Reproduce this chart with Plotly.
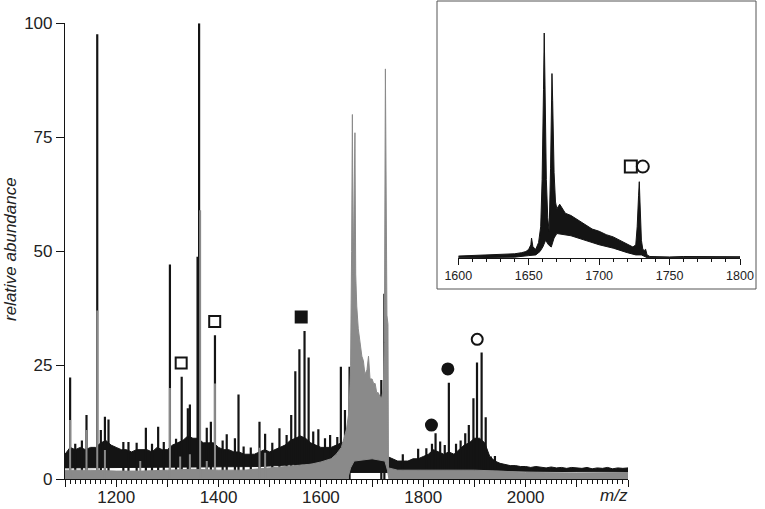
import plotly.graph_objects as go

# ---- main spectrum (black trace): noise band on a 10 m/z grid ----
black_x = list(range(1100, 2201, 10))
black_hi = [5.5, 7.0, 6.5, 7.0, 6.5, 7.0, 7.0, 8.0, 8.5, 7.5,
            7.0, 6.5, 6.5, 6.0, 6.5, 6.5, 6.5, 6.0, 7.0, 6.5,
            6.5, 7.5, 8.0, 8.5, 9.5, 9.0, 9.0, 8.0, 8.0, 8.0,
            7.0, 6.5, 6.5, 6.0, 6.0, 5.5, 5.5, 5.5, 6.0, 6.5,
            6.0, 6.5, 7.0, 7.5, 8.5, 9.0, 9.5, 9.0, 8.0, 7.5,
            7.0, 7.0, 7.0, 7.5, 8.0, 8.0, 6.0, 6.5, 5.5, 5.5,
            5.0, 5.0, 5.5, 5.0, 4.5, 4.0, 4.0, 4.0, 4.5, 4.5,
            5.0, 5.5, 6.5, 6.0, 5.5, 6.0, 5.5, 6.5, 7.5, 8.0,
            9.0, 9.0, 8.0, 5.0, 4.0, 3.5, 3.2, 3.0, 3.0, 2.8,
            2.8, 2.6, 2.8, 2.6, 2.5, 2.7, 2.5, 2.6, 2.4, 2.6,
            2.5, 2.4, 2.6, 2.3, 2.5, 2.4, 2.6, 2.3, 2.5, 2.4, 2.5]
black_lo_x = [1100, 1480, 1600, 1650, 1656, 1730, 1736, 2200]
black_lo = [2.5, 2.8, 3.5, 3.0, 1.5, 1.5, 2.0, 1.6]

# black peaks (m/z, height)
black_peak_mz = [1110, 1120, 1133, 1142, 1163, 1170, 1178, 1185, 1214, 1224,
                 1240, 1258, 1270, 1282, 1293, 1305, 1317, 1328, 1340, 1344,
                 1359, 1362, 1377, 1385, 1393, 1408, 1416, 1432, 1439, 1449,
                 1463, 1480, 1491, 1505, 1519, 1533, 1542, 1550, 1558, 1568,
                 1576, 1585, 1595, 1608, 1618, 1632, 1639, 1647, 1656, 1718,
                 1724, 1760, 1790, 1806, 1817, 1824, 1833, 1842, 1850, 1864,
                 1873, 1882, 1889, 1898, 1905, 1914, 1922, 1932, 1940]
black_peak_h = [22.3, 7.8, 8.5, 14.1, 97.6, 10.8, 13.7, 13.1, 8.2, 8.2,
                8.0, 11.3, 7.8, 11.5, 8.2, 47.1, 8.9, 22.5, 15.6, 16.4,
                48.8, 100, 11.3, 12.6, 31.6, 8.5, 9.9, 9.0, 18.6, 7.2,
                7.0, 12.6, 10.0, 8.0, 11.2, 9.7, 14.1, 23.7, 28.5, 32.5,
                26.7, 10.5, 11.0, 9.0, 9.7, 9.3, 24.7, 15.2, 24.7, 21.8,
                40.7, 5.5, 6.7, 6.8, 7.8, 10.1, 8.3, 7.5, 21.2, 7.8,
                8.5, 10.1, 11.9, 17.8, 25.6, 27.8, 13.6, 5.0, 5.1]

# ---- gray trace ----
gray_hi_x = [1100, 1150, 1200, 1250, 1300, 1350, 1400, 1450, 1500, 1550,
             1580, 1600, 1620, 1630, 1640, 1645, 1650, 1655, 1658, 1660,
             1661.5, 1663, 1665, 1666.5, 1668, 1670, 1673, 1677, 1680, 1683,
             1686, 1690, 1693, 1696, 1700, 1703, 1706, 1709, 1712, 1716,
             1719, 1722, 1724, 1726, 1727.5, 1729, 1731, 1732, 1750, 1800,
             1850, 1900, 1950, 2000, 2100, 2200]
gray_hi = [2.0, 2.0, 1.8, 1.8, 2.0, 2.2, 2.0, 2.0, 2.5, 3.0,
           3.3, 3.8, 4.5, 5.5, 7.0, 9.0, 11.0, 15.0, 25.0, 50.0,
           80.0, 45.0, 60.0, 76.0, 45.0, 38.0, 33.0, 29.0, 27.0, 26.0,
           23.0, 24.0, 27.0, 22.0, 22.0, 21.0, 21.0, 19.0, 19.0, 18.0,
           18.0, 20.0, 30.0, 90.0, 40.0, 36.0, 34.0, 2.5, 2.0, 2.0,
           2.0, 2.0, 1.8, 1.5, 1.4, 1.4]
gray_lo_x = [1100, 1652, 1658, 1665, 1700, 1725, 1730, 1733, 2200]
gray_lo = [0, 0, 2.5, 4.0, 4.5, 4.0, 2.0, 0, 0]

gray_peak_mz = [1110, 1142, 1163, 1178, 1247, 1305, 1325, 1344, 1364, 1377, 1393, 1480, 1491]
gray_peak_h = [13.0, 10.8, 37.0, 6.4, 4.0, 20.0, 5.0, 5.5, 59.0, 4.0, 21.0, 6.9, 5.8]

# ---- peak labels ----
sym_mz = [1327, 1360.5, 1392.5, 1561.5, 1816, 1848, 1905.4]
sym_y = [25.5, 102.4, 34.6, 35.6, 11.9, 24.2, 30.7]
sym_kind = ["square-open", "square-open", "square-open", "square",
            "circle", "circle", "circle-open"]

# ---- inset (1600-1800 zoom) ----
inset_hi_x = [1600, 1610, 1620, 1630, 1640, 1645, 1648, 1650, 1651.5, 1652,
              1653, 1655, 1657, 1658.5, 1659.5, 1660.5, 1661, 1661.5, 1662.5, 1663.5,
              1664.5, 1665.5, 1666.5, 1667, 1668, 1669, 1670, 1672, 1674, 1676,
              1680, 1685, 1690, 1695, 1700, 1705, 1710, 1715, 1720, 1724,
              1726, 1727, 1728, 1728.5, 1729, 1730, 1731, 1732, 1733, 1734,
              1736, 1740, 1750, 1760, 1770, 1780, 1790, 1800]
inset_hi = [1.0, 1.2, 1.4, 1.7, 2.0, 2.5, 3.0, 4.0, 6.0, 9.0,
            5.0, 4.0, 7.0, 14.0, 35.0, 75.0, 100.0, 80.0, 35.0, 18.0,
            12.0, 40.0, 82.0, 70.0, 38.0, 25.0, 22.0, 24.0, 22.0, 20.0,
            19.0, 17.0, 15.0, 13.0, 12.0, 10.5, 9.5, 8.0, 6.5, 5.0,
            6.0, 14.0, 28.0, 34.0, 25.0, 8.0, 4.0, 3.5, 4.0, 1.5,
            0.8, 0.7, 0.6, 0.8, 0.7, 0.8, 0.7, 0.7]
inset_lo_x = [1600, 1640, 1650, 1655, 1658, 1660, 1662, 1664, 1666, 1668,
              1670, 1680, 1690, 1700, 1710, 1720, 1726, 1730, 1734, 1740, 1800]
inset_lo = [0.2, 0.5, 1.2, 1.5, 3.0, 5.0, 8.0, 6.0, 5.0, 9.0,
            11.0, 10.0, 8.0, 6.0, 4.5, 2.5, 1.5, 1.5, 0.3, 0.2, 0.2]
inset_sym_mz = [1656.2, 1665.5, 1722.5, 1731]
inset_sym_y = [105.5, 105.5, 40.7, 40.7]
inset_sym_kind = ["square", "circle", "square-open", "circle-open"]

x_tick_vals = list(range(1100, 2201, 100))
x_tick_text = ["", "1200", "", "1400", "", "1600", "", "1800", "", "2000", "", ""]
y_tick_vals = [0, 25, 50, 75, 100]
inset_tick_vals = [1600, 1650, 1700, 1750, 1800]

BLACK = "#141414"
GRAY = "#8a8a8a"
FONT = "Liberation Sans, Arial, sans-serif"


def polygon(top_x, top_y, bot_x, bot_y):
    return top_x + bot_x[::-1], top_y + bot_y[::-1]


def sticks(mz, h):
    xs, ys = [], []
    for m, v in zip(mz, h):
        xs += [m, m, None]
        ys += [0, v, None]
    return xs, ys


fig = go.Figure()

bx, by = polygon(black_x, black_hi, black_lo_x, black_lo)
fig.add_trace(go.Scatter(x=bx, y=by, fill="toself", fillcolor=BLACK, mode="lines",
                         line=dict(color=BLACK, width=1), hoverinfo="skip"))
sx, sy = sticks(black_peak_mz, black_peak_h)
fig.add_trace(go.Scatter(x=sx, y=sy, mode="lines", line=dict(color=BLACK, width=2.2)))

gx, gy = polygon(gray_hi_x, gray_hi, gray_lo_x, gray_lo)
fig.add_trace(go.Scatter(x=gx, y=gy, fill="toself", fillcolor=GRAY, mode="lines",
                         line=dict(color=GRAY, width=1), hoverinfo="skip"))
sx, sy = sticks(gray_peak_mz, gray_peak_h)
fig.add_trace(go.Scatter(x=sx, y=sy, mode="lines", line=dict(color=GRAY, width=2)))

fig.add_trace(go.Scatter(x=sym_mz, y=sym_y, mode="markers", cliponaxis=False,
                         marker=dict(symbol=sym_kind, size=11, color=BLACK,
                                     line=dict(color=BLACK, width=2))))

ix, iy = polygon(inset_hi_x, inset_hi, inset_lo_x, inset_lo)
fig.add_trace(go.Scatter(x=ix, y=iy, fill="toself", fillcolor=BLACK, mode="lines",
                         line=dict(color=BLACK, width=1), xaxis="x2", yaxis="y2"))
fig.add_trace(go.Scatter(x=inset_sym_mz, y=inset_sym_y, mode="markers", cliponaxis=False,
                         marker=dict(symbol=inset_sym_kind, size=12, color=BLACK,
                                     line=dict(color=BLACK, width=2)),
                         xaxis="x2", yaxis="y2"))

fig.update_layout(
    width=765, height=509,
    margin=dict(l=0, r=0, t=0, b=0),
    paper_bgcolor="white", plot_bgcolor="white",
    showlegend=False,
    font=dict(family=FONT, color="#222222"),
    xaxis=dict(domain=[65 / 765, 628 / 765], range=[1100, 2200], automargin=False,
               showline=True, linecolor=BLACK, linewidth=1.2, showgrid=False, zeroline=False,
               tickmode="array", tickvals=x_tick_vals, ticktext=x_tick_text,
               ticks="outside", ticklen=7, tickcolor=BLACK, tickfont=dict(size=17),
               ticklabelstandoff=-5,
               minor=dict(tickmode="linear", tick0=1100, dtick=10, ticks="outside",
                          ticklen=4, tickcolor=BLACK, showgrid=False)),
    yaxis=dict(domain=[(509 - 479.3) / 509, (509 - 23.3) / 509], range=[0, 100],
               automargin=False, showline=True, linecolor=BLACK, linewidth=1.2,
               showgrid=False, zeroline=False, tickvals=y_tick_vals,
               ticks="outside", ticklen=8, tickcolor=BLACK, tickfont=dict(size=17)),
    xaxis2=dict(domain=[458.3 / 765, 740 / 765], range=[1600, 1800], anchor="y2",
                automargin=False, showline=True, linecolor=BLACK, linewidth=1.2,
                showgrid=False, zeroline=False, tickvals=inset_tick_vals,
                ticks="outside", ticklen=6, tickcolor=BLACK, tickfont=dict(size=12.5),
                minor=dict(tickmode="linear", tick0=1600, dtick=10, ticks="outside",
                           ticklen=3, tickcolor=BLACK, showgrid=False)),
    yaxis2=dict(domain=[(509 - 258.3) / 509, (509 - 33) / 509], range=[0, 100],
                anchor="x2", visible=False),
    shapes=[dict(type="rect", xref="paper", yref="paper",
                 x0=437 / 765, x1=756 / 765, y0=(509 - 289) / 509, y1=(509 - 1) / 509,
                 line=dict(color="#555555", width=1), layer="below")],
    annotations=[
        dict(text="<i>relative abundance</i>", xref="paper", yref="paper",
             x=10 / 765, y=(509 - 249) / 509, textangle=-90, showarrow=False,
             xanchor="center", yanchor="middle", font=dict(size=17)),
        dict(text="<i>m/z</i>", xref="paper", yref="paper",
             x=614 / 765, y=(509 - 495) / 509, showarrow=False,
             xanchor="center", yanchor="middle", font=dict(size=17)),
    ],
)

# drop the page's default body margin so the figure sits at the window corner
fig.write_html("out.html", config={"displayModeBar": False},
               post_script="document.body.style.margin = '0';")
